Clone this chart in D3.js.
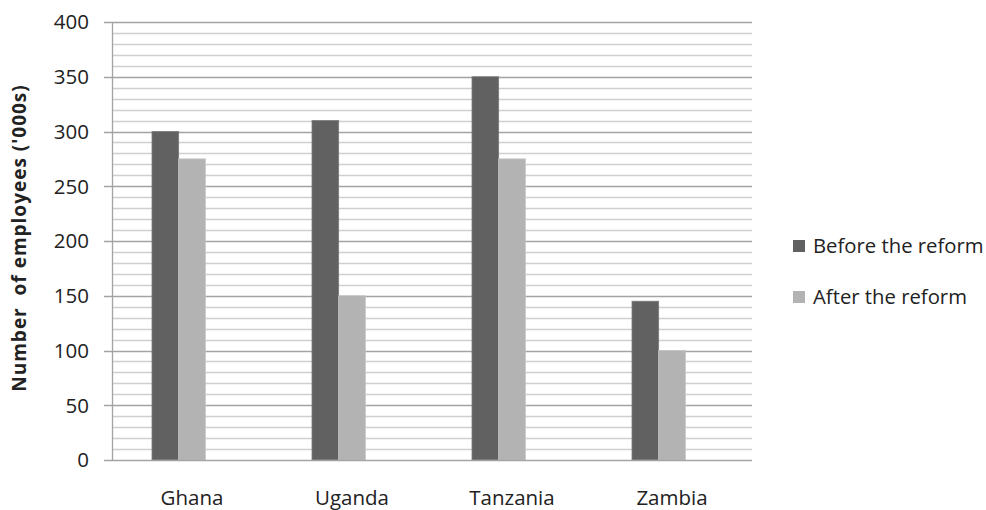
<!DOCTYPE html>
<html><head><meta charset="utf-8">
<script src="https://cdn.jsdelivr.net/npm/d3@7"></script>
<style>body{margin:0;background:#fff}svg{display:block}text{font-family:"Open Sans",sans-serif;fill:#222}</style>
</head><body>
<svg id="c" width="986" height="510"></svg>
<script>
const categories = ["Ghana", "Uganda", "Tanzania", "Zambia"];
const seriesNames = ["Before the reform", "After the reform"];
const beforeValues = [300, 310, 350, 145];
const afterValues = [275, 150, 275, 100];
const yTicks = [0, 50, 100, 150, 200, 250, 300, 350, 400];
const colors = ["#616161", "#b3b3b3"];

const svg = d3.select("#c");
const L = 112, R = 752, T = 22, B = 460;
const x0 = d3.scaleBand().domain(categories).range([L, R]).padding(0);
const y = d3.scaleLinear().domain([0, 400]).range([B, T]);
// group has room for 3 slots (third empty), like the original
const slot = x0.bandwidth() / 6;
const x1 = d3.scaleBand().domain(seriesNames).range([0, slot * 2]).padding(0);

// minor grid
svg.append("g").selectAll("line").data(d3.range(10, 400, 10).filter(v => v % 50 !== 0))
  .join("line").attr("x1", L).attr("x2", R)
  .attr("y1", d => Math.round(y(d)) + 0.5).attr("y2", d => Math.round(y(d)) + 0.5)
  .attr("stroke", "#cfcfcf").attr("stroke-width", 1.3);
// major grid
svg.append("g").selectAll("line").data(yTicks.filter(v => v > 0))
  .join("line").attr("x1", L - 8).attr("x2", R)
  .attr("y1", d => Math.round(y(d)) + 0.5).attr("y2", d => Math.round(y(d)) + 0.5)
  .attr("stroke", "#a3a3a3").attr("stroke-width", 1.3);

// bars
const data = categories.map((c, i) => ({c, vals: [beforeValues[i], afterValues[i]]}));
const g = svg.append("g").selectAll("g").data(data).join("g")
  .attr("transform", d => `translate(${x0(d.c) + x0.bandwidth() / 2 - slot * 1.5},0)`);
g.selectAll("rect").data(d => d.vals.map((v, k) => ({k: seriesNames[k], v, col: colors[k]})))
  .join("rect")
  .attr("x", d => x1(d.k)).attr("width", x1.bandwidth())
  .attr("y", d => y(d.v)).attr("height", d => y(0) - y(d.v))
  .attr("fill", d => d.col)
  .attr("stroke", (d, i) => i === 0 ? "#7a7a7a" : "#c4c4c4").attr("stroke-width", 0.8);

// axes lines
svg.append("line").attr("x1", L + 0.5).attr("x2", L + 0.5).attr("y1", T).attr("y2", B)
  .attr("stroke", "#a3a3a3").attr("stroke-width", 1.3);
svg.append("line").attr("x1", L - 8).attr("x2", R).attr("y1", B + 0.5).attr("y2", B + 0.5)
  .attr("stroke", "#a3a3a3").attr("stroke-width", 1.3);

// y tick labels
svg.append("g").selectAll("text").data(yTicks).join("text")
  .attr("x", 89).attr("y", d => y(d)).attr("dy", "0.36em")
  .attr("text-anchor", "end").attr("font-size", 20.5).text(d => d);

// x labels
svg.append("g").selectAll("text").data(categories).join("text")
  .attr("x", d => x0(d) + x0.bandwidth() / 2).attr("y", 505)
  .attr("text-anchor", "middle").attr("font-size", 20.5).text(d => d);

// y title
svg.append("text").attr("transform", "translate(26,238) rotate(-90)")
  .attr("text-anchor", "middle").attr("font-size", 19).attr("font-weight", "bold")
  .attr("letter-spacing", 1)
  .style("white-space", "pre")
  .text("Number  of employees ('000s)");

// legend
const lg = svg.append("g").selectAll("g").data(seriesNames).join("g")
  .attr("transform", (d, i) => `translate(793,${240 + i * 51})`);
lg.append("rect").attr("width", 12).attr("height", 12).attr("fill", (d, i) => colors[i]);
lg.append("text").attr("x", 20).attr("y", 12.5).attr("font-size", 20.3).text(d => d);
</script>
</body></html>
